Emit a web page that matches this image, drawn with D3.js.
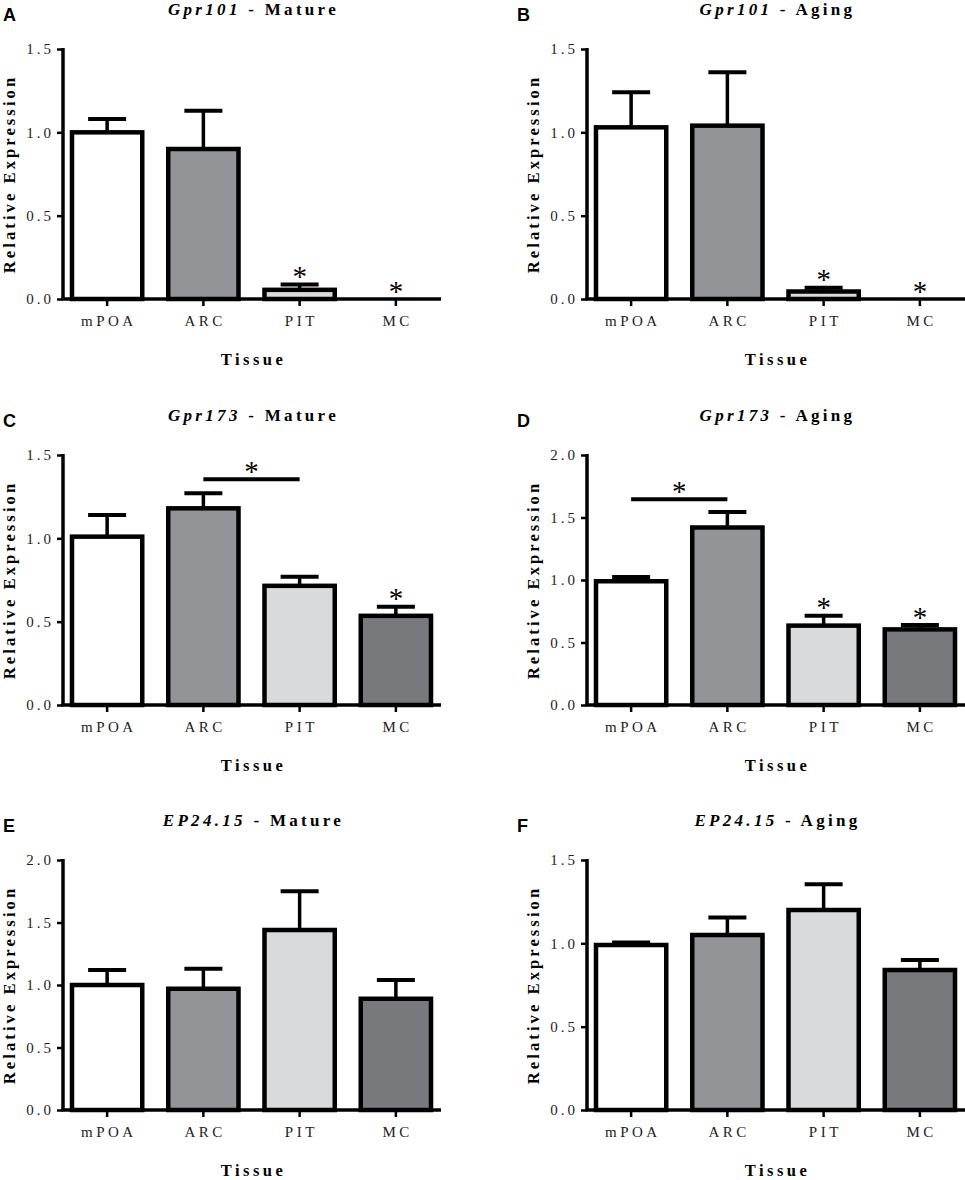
<!DOCTYPE html>
<html><head><meta charset="utf-8">
<script src="https://cdn.jsdelivr.net/npm/d3@7"></script>
<style>body{margin:0;background:#fff}svg{display:block}</style>
</head><body>
<svg id="c" width="965" height="1180"></svg>
<script>
// ---- data ----
const categories = ["mPOA", "ARC", "PIT", "MC"];
const barFills = ["#ffffff", "#939498", "#d9dadc", "#78797d"];
const panelLetters = ["A", "B", "C", "D", "E", "F"];
const genes = ["Gpr101", "Gpr101", "Gpr173", "Gpr173", "EP24.15", "EP24.15"];
const groups = ["Mature", "Aging", "Mature", "Aging", "Mature", "Aging"];
const yMaxima = [1.5, 1.5, 1.5, 2.0, 2.0, 1.5];
const yTickValues = [0, 0.5, 1.0, 1.5, 2.0];

const meanA = [1.00, 0.90, 0.055, 0.0];
const semA  = [0.08, 0.23, 0.032, 0.0];
const meanB = [1.03, 1.04, 0.045, 0.0];
const semB  = [0.21, 0.32, 0.022, 0.0];
const meanC = [1.01, 1.18, 0.715, 0.535];
const semC  = [0.13, 0.09, 0.055, 0.055];
const meanD = [0.99, 1.42, 0.635, 0.605];
const semD  = [0.035, 0.125, 0.08, 0.035];
const meanE = [1.00, 0.97, 1.44, 0.89];
const semE  = [0.12, 0.16, 0.31, 0.15];
const meanF = [0.99, 1.05, 1.20, 0.84];
const semF  = [0.015, 0.105, 0.155, 0.06];

const starsA = [0, 0, 1, 1];
const starsB = [0, 0, 1, 1];
const starsC = [0, 0, 0, 1];
const starsD = [0, 0, 1, 1];
const starsE = [0, 0, 0, 0];
const starsF = [0, 0, 0, 0];

// significance brackets: [from category, to category, value]
const bracketC = ["ARC", "PIT", 1.355];
const bracketD = ["mPOA", "ARC", 1.647];

const means = [meanA, meanB, meanC, meanD, meanE, meanF];
const sems = [semA, semB, semC, semD, semE, semF];
const stars = [starsA, starsB, starsC, starsD, starsE, starsF];
const brackets = [null, null, bracketC, bracketD, null, null];

// ---- layout ----
const colAxisX = [63, 587];
const colLetterX = [3, 517];
const rowTop = [49, 455, 860];
const plotH = 250, plotW = 378;
const serif = "'Liberation Serif','Times New Roman',serif";

const svg = d3.select("#c");

for (let p = 0; p < 6; p++) {
  const col = p % 2, row = Math.floor(p / 2);
  const ax = colAxisX[col], top = rowTop[row], bottom = top + plotH;
  const y = d3.scaleLinear().domain([0, yMaxima[p]]).range([bottom, top]);
  const x = d3.scaleBand().domain(categories).range([ax - 4, ax + 381])
    .paddingInner(0.27).paddingOuter(0.135);
  const cx = c => x(c) + x.bandwidth() / 2;
  const g = svg.append("g");

  const data = categories.map((c, i) => ({c, m: means[p][i], s: sems[p][i], f: barFills[i], star: stars[p][i]}));

  // bars
  g.selectAll("rect.bar").data(data).join("rect")
    .attr("x", d => x(d.c)).attr("width", x.bandwidth())
    .attr("y", d => y(d.m)).attr("height", d => y(0) - y(d.m))
    .attr("fill", d => d.f).attr("stroke", "#000").attr("stroke-width", 4.5);

  // error bars
  const eb = data.filter(d => d.s > 0);
  g.selectAll("line.ev").data(eb).join("line")
    .attr("x1", d => cx(d.c)).attr("x2", d => cx(d.c))
    .attr("y1", d => y(d.m)).attr("y2", d => y(d.m + d.s))
    .attr("stroke", "#000").attr("stroke-width", 3.5);
  g.selectAll("line.cap").data(eb).join("line")
    .attr("x1", d => cx(d.c) - 19).attr("x2", d => cx(d.c) + 19)
    .attr("y1", d => y(d.m + d.s)).attr("y2", d => y(d.m + d.s))
    .attr("stroke", "#000").attr("stroke-width", 4);

  // stars
  g.selectAll("text.star").data(data.filter(d => d.star)).join("text")
    .attr("x", d => cx(d.c)).attr("y", d => y(d.m + d.s) - 12)
    .attr("dy", "0.47em").attr("fill", "#000")
    .attr("text-anchor", "middle").attr("font-family", serif)
    .attr("font-size", 29).text("*");

  // bracket
  const br = brackets[p];
  if (br) {
    g.append("line").attr("x1", cx(br[0])).attr("x2", cx(br[1]))
      .attr("y1", y(br[2])).attr("y2", y(br[2]))
      .attr("stroke", "#000").attr("stroke-width", 4);
    g.append("text").attr("x", (cx(br[0]) + cx(br[1])) / 2).attr("y", y(br[2]) - 12)
      .attr("dy", "0.47em").attr("text-anchor", "middle").attr("fill", "#000")
      .attr("font-family", serif).attr("font-size", 29).text("*");
  }

  // y axis
  const yAxis = d3.axisLeft(y).tickValues(yTickValues.filter(v => v <= yMaxima[p]))
    .tickFormat(d3.format(".1f")).tickSize(6).tickSizeOuter(0).tickPadding(6);
  const ya = g.append("g").attr("transform", `translate(${ax},0)`).call(yAxis);
  ya.select(".domain").attr("stroke-width", 3.5).attr("d", `M0,${top - 1}V${bottom}`);
  ya.selectAll(".tick line").attr("stroke-width", 2.5);
  ya.selectAll(".tick text").attr("font-family", serif).attr("font-size", 15)
    .attr("fill", "#222").attr("letter-spacing", "3px").attr("dx", "3");

  // x axis
  const xAxis = d3.axisBottom(x).tickSize(7).tickSizeOuter(0).tickPadding(9);
  const xa = g.append("g").attr("transform", `translate(0,${bottom})`).call(xAxis);
  xa.select(".domain").attr("stroke-width", 3.5).attr("d", `M${ax - 1.5},0H${ax + plotW}`);
  xa.selectAll(".tick line").attr("stroke-width", 2.5);
  xa.selectAll(".tick text").attr("font-family", serif).attr("font-size", 15)
    .attr("fill", "#222").attr("letter-spacing", "3.5px").attr("dx", "1.7");

  // axis titles
  g.append("text").attr("transform", `translate(${ax - 54},${(top + bottom) / 2}) rotate(-90)`)
    .attr("text-anchor", "middle").attr("dy", "0.35em")
    .attr("font-family", serif).attr("font-weight", "bold").attr("font-size", 16.5)
    .attr("letter-spacing", "3.1px").text("Relative Expression");
  g.append("text").attr("x", ax + plotW / 2 + 1.5).attr("y", bottom + 66)
    .attr("text-anchor", "middle")
    .attr("font-family", serif).attr("font-weight", "bold").attr("font-size", 16.5)
    .attr("letter-spacing", "3.5px").text("Tissue");

  // panel title
  const t = g.append("text").attr("x", ax + plotW / 2 + 1.5).attr("y", top - 34)
    .attr("text-anchor", "middle")
    .attr("font-family", serif).attr("font-weight", "bold").attr("font-size", 17)
    .attr("letter-spacing", "3.3px");
  t.append("tspan").attr("font-style", "italic").text(genes[p]);
  t.append("tspan").text(" - " + groups[p]);

  // panel letter
  g.append("text").attr("x", colLetterX[col]).attr("y", top - 28)
    .attr("font-family", "'Liberation Sans',Arial,sans-serif").attr("font-weight", "bold")
    .attr("font-size", 18).text(panelLetters[p]);
}
</script>
</body></html>
